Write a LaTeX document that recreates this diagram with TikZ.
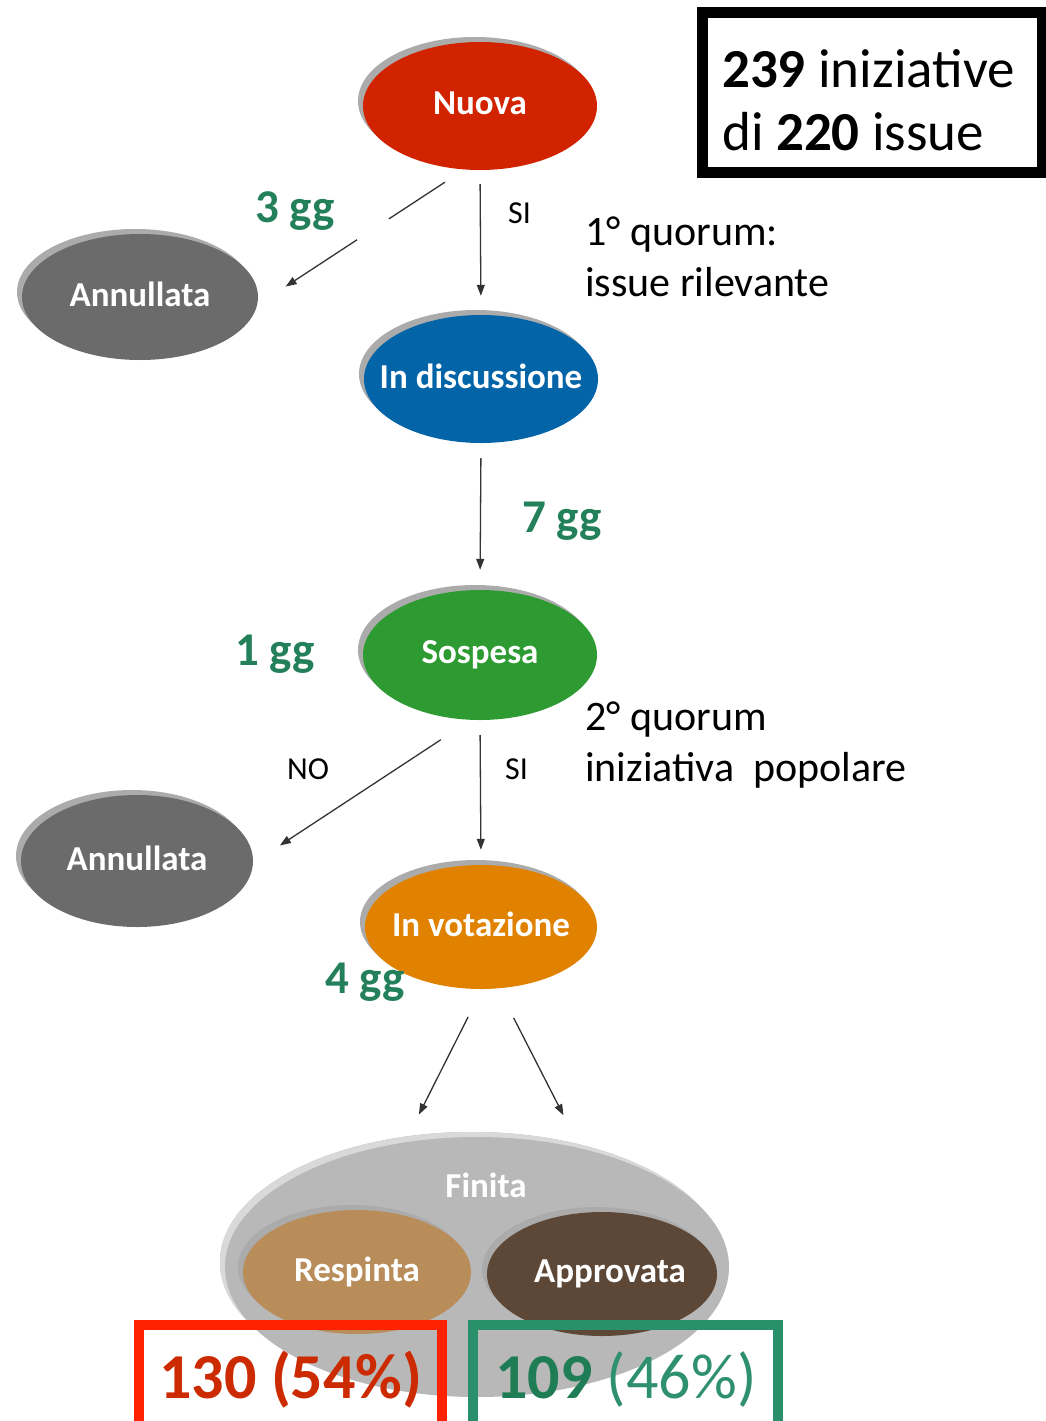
\documentclass[tikz,border=0pt]{standalone}
\usepackage{fontspec}
\setmainfont{Carlito}
\usetikzlibrary{arrows.meta,shapes.geometric,shadows}
\definecolor{cNuova}{HTML}{D12300}
\definecolor{cAnn}{HTML}{6B6B6B}
\definecolor{cDisc}{HTML}{0364A8}
\definecolor{cSosp}{HTML}{2D9B32}
\definecolor{cVot}{HTML}{E08200}
\definecolor{cFin}{HTML}{B8B8B8}
\definecolor{cResp}{HTML}{B98D5A}
\definecolor{cAppr}{HTML}{5D4838}
\definecolor{cGG}{HTML}{23805A}
\definecolor{cRedBox}{HTML}{FF2200}
\definecolor{cRedTxt}{HTML}{CC2A00}
\definecolor{cGreenBox}{HTML}{2A8F6B}
\definecolor{cGreenTxt}{HTML}{1F7D55}
\definecolor{cGreenLt}{HTML}{2E9070}
\definecolor{cShadow}{HTML}{ABABAB}
\definecolor{cArrow}{HTML}{333333}
\newcommand\zb[2][6pt]{\makebox[0pt]{\raisebox{#1}{#2}}}
\begin{document}
\begin{tikzpicture}[x=1pt,y=-1pt,
  blob/.style={ellipse, inner sep=0pt, minimum width=234pt, minimum height=128pt,
    text=white, font=\fontsize{35}{38}\selectfont\bfseries,
    drop shadow={shadow xshift=-5pt, shadow yshift=5pt, fill=cShadow, opacity=1}},
  gg/.style={inner sep=0pt, anchor=base west, text=cGG, font=\fontsize{47}{50}\selectfont\bfseries},
  yn/.style={inner sep=0pt, anchor=base west, font=\fontsize{32}{34}\selectfont},
  note/.style={inner sep=0pt, anchor=base west, font=\fontsize{42}{46}\selectfont},
  conn/.style={draw=cArrow, line width=1.3pt, -{Triangle[length=11pt,width=8pt]}},
  frame/.style={inner sep=0pt, outer sep=0pt, anchor=north west}
]
\useasboundingbox (0,0) rectangle (1046,1421);
\clip (0,0) rectangle (1046,1421);

% top-right summary box
\node[frame, draw=black, line width=11pt, minimum width=340pt, minimum height=160pt] (summary) at (702.5,12.5) {};
\node[inner sep=0pt, anchor=base west, font=\fontsize{55}{58}\selectfont] (sum1) at (722,88) {\textbf{239} iniziative};
\node[inner sep=0pt, anchor=base west, font=\fontsize{55}{58}\selectfont] (sum2) at (722,150) {di \textbf{220} issue};

% states
\node[blob, fill=cNuova] (nuova) at (480,106) {\zb{Nuova}};
\node[blob, fill=cAnn, minimum width=236pt, minimum height=126pt] (ann1) at (140,297) {\zb{Annullata}};
\node[blob, fill=cDisc] (disc) at (481,379) {\zb{In discussione}};
\node[blob, fill=cSosp, minimum height=130pt] (sosp) at (480,655) {\zb{Sospesa}};
\node[blob, fill=cAnn, minimum width=232pt, minimum height=132pt] (ann2) at (137,861) {\zb{Annullata}};
\node[blob, fill=cVot, minimum width=232pt, minimum height=124pt] (vot) at (481,927) {\zb{In votazione}};

% finita group
\node[blob, fill=cFin, minimum width=504pt, minimum height=260pt,
      drop shadow={shadow xshift=-5pt, shadow yshift=5pt, fill=black!15, opacity=1}] (fin) at (477,1267) {};
\node[inner sep=0pt, text=white, font=\fontsize{35}{38}\selectfont\bfseries] (finlab) at (486,1185) {Finita};
\node[blob, fill=cResp, minimum width=228pt, minimum height=124pt] (resp) at (357,1272) {\zb[4pt]{Respinta}};
\node[blob, fill=cAppr, minimum width=230pt, minimum height=124pt] (appr) at (602,1274) {\zb[4pt]{\hspace{16pt}Approvata}};

% connectors
\draw[conn, shorten <=23pt, shorten >=34pt, dash pattern=on 67pt off 38pt on 400pt] (nuova.256) -- (ann1.356);
\draw[conn, shorten <=14pt, shorten >=19pt] (nuova.south) -- (disc.north);
\draw[conn, shorten <=15pt, shorten >=20pt] (disc.south) -- (sosp.north);
\draw[conn, shorten <=36pt, shorten >=32pt] (sosp.262) -- (ann2.359);
\draw[conn, shorten <=15pt, shorten >=15pt] (sosp.south) -- (vot.north);
\draw[conn, shorten <=31pt, shorten >=31pt] (vot.271) -- (fin.120);
\draw[conn, shorten <=33pt, shorten >=37pt] (vot.286) -- (fin.49);

% labels
\node[gg] (gg3) at (255,222) {3 gg};
\node[gg] (gg7) at (522,532) {7 gg};
\node[gg] (gg1) at (235,665) {1 gg};
\node[gg] (gg4) at (325,993) {4 gg};
\node[yn] (si1) at (508,223) {SI};
\node[yn] (si2) at (505,779) {SI};
\node[yn] (no1) at (287,779) {NO};
\node[note] (q1a) at (585,245) {1° quorum:};
\node[note] (q1b) at (585,296) {issue rilevante};
\node[note] (q2a) at (585,730) {2° quorum};
\node[note] (q2b) at (585,781) {iniziativa\ \ popolare};

% result boxes
\node[frame, draw=cRedBox, line width=10pt, minimum width=303pt, minimum height=140pt] (redbox) at (139,1325) {};
\node[frame, draw=cGreenBox, line width=10pt, minimum width=305pt, minimum height=140pt] (greenbox) at (473,1325) {};
\node[inner sep=0pt, anchor=base west, text=cRedTxt, font=\fontsize{64}{66}\selectfont\bfseries] (res1) at (159,1398) {130 (54\%)};
\node[inner sep=0pt, anchor=base west, font=\fontsize{64}{66}\selectfont] (res2) at (495,1398) {\textcolor{cGreenTxt}{\textbf{109}} \textcolor{cGreenLt}{(46\%)}};
\end{tikzpicture}
\end{document}
